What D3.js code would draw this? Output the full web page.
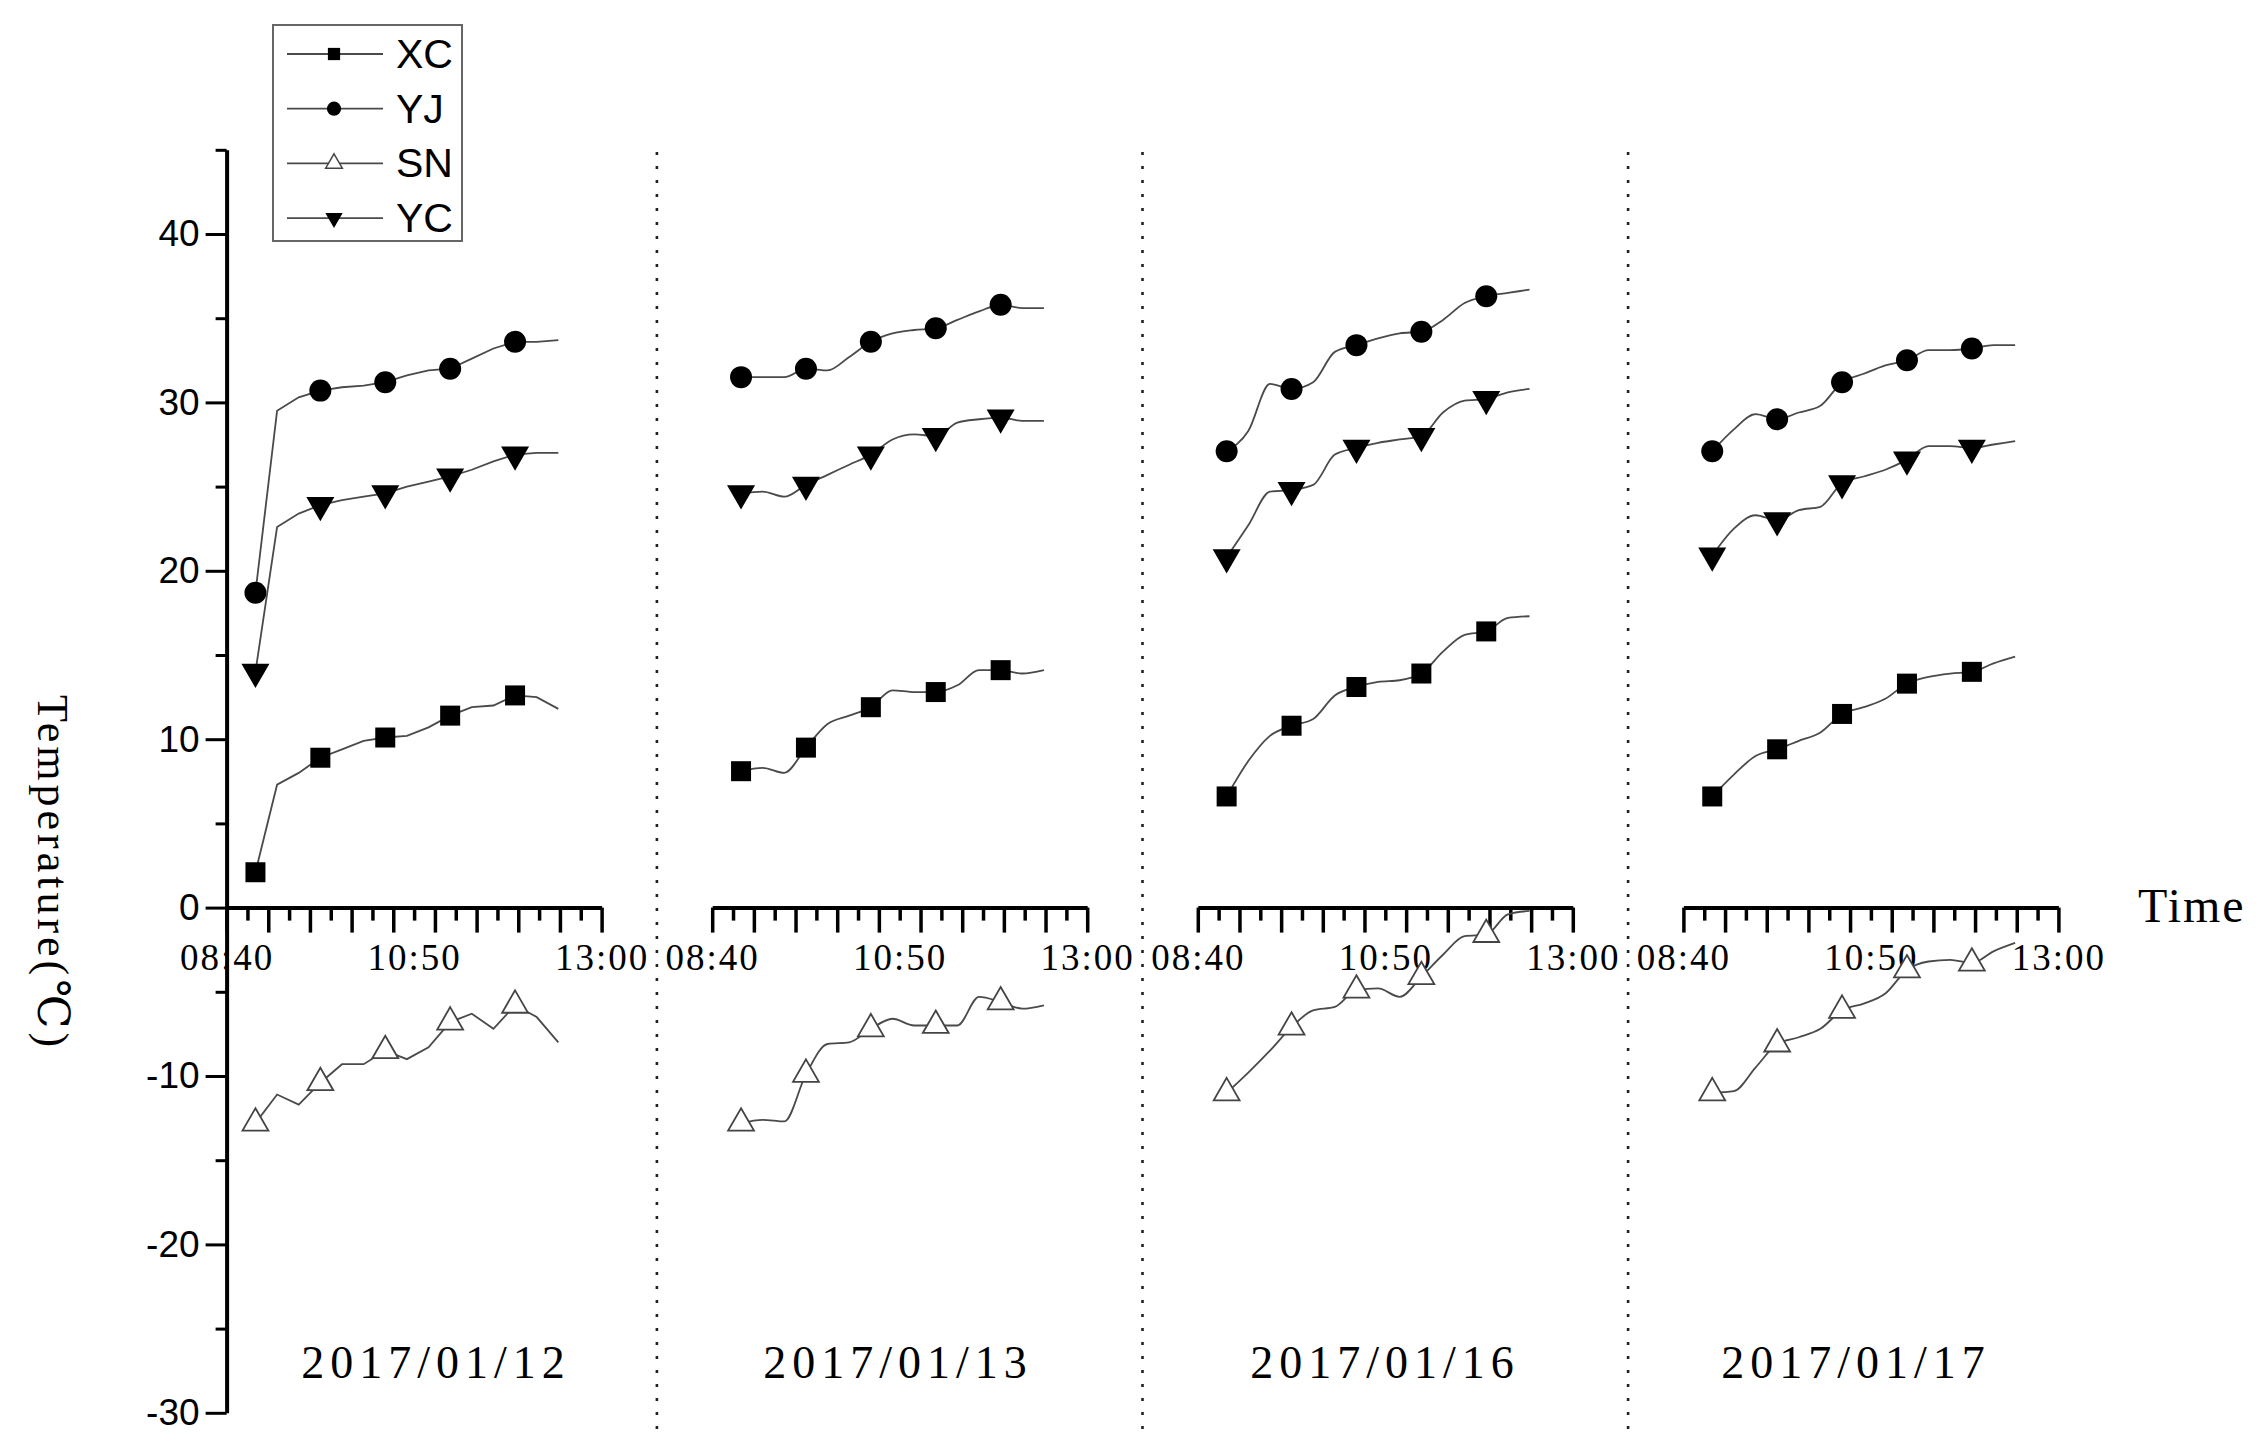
<!DOCTYPE html>
<meta charset="utf-8">
<style>
    body { margin: 0; background: #fff; }
    .tick text { fill: #000; }
</style>
<svg width="2266" height="1450"></svg>
<script src="https://d3js.org/d3.v7.min.js"></script>
<script>

    // ---- data ----
    var dates = ["2017/01/12", "2017/01/13", "2017/01/16", "2017/01/17"];
    var times = ["09:00", "09:15", "09:30", "09:45", "10:00", "10:15", "10:30", "10:45",
                 "11:00", "11:15", "11:30", "11:45", "12:00", "12:15", "12:30"];
    var xTickLabels = ["08:40", "10:50", "13:00"];
    var yTicks = [-30, -20, -10, 0, 10, 20, 30, 40];

    // one row per date
    var XC = [
        [2.1, 7.3, 8.0, 8.9, 9.4, 9.9, 10.1, 10.2, 10.7, 11.4, 11.9, 12.0, 12.6, 12.5, 11.8],
        [8.1, 8.3, 8.0, 9.5, 10.9, 11.4, 11.9, 12.9, 12.8, 12.8, 13.2, 14.1, 14.1, 13.9, 14.1],
        [6.6, 8.7, 10.2, 10.8, 11.2, 12.6, 13.1, 13.4, 13.5, 13.9, 15.2, 16.2, 16.4, 17.2, 17.3],
        [6.6, 7.9, 9.0, 9.4, 9.9, 10.4, 11.5, 11.9, 12.4, 13.3, 13.7, 13.9, 14.0, 14.5, 14.9]
    ];
    var YJ = [
        [18.7, 29.5, 30.3, 30.7, 30.9, 31.0, 31.2, 31.6, 31.9, 32.0, 32.6, 33.2, 33.6, 33.6, 33.7],
        [31.5, 31.5, 31.5, 32.0, 31.9, 32.7, 33.6, 34.1, 34.3, 34.4, 34.9, 35.4, 35.8, 35.6, 35.6],
        [27.1, 28.3, 31.1, 30.8, 31.2, 33.0, 33.4, 33.8, 34.1, 34.2, 34.9, 35.9, 36.3, 36.5, 36.7],
        [27.1, 28.4, 29.3, 29.0, 29.4, 29.8, 31.2, 31.7, 32.2, 32.5, 33.1, 33.1, 33.2, 33.4, 33.4]
    ];
    var SN = [
        [-12.8, -11.1, -11.7, -10.4, -9.3, -9.3, -8.5, -9.0, -8.3, -6.8, -6.3, -7.2, -5.8, -6.5, -8.0],
        [-12.8, -12.6, -12.7, -9.9, -8.1, -8.0, -7.2, -6.6, -7.0, -7.0, -7.0, -5.3, -5.6, -6.0, -5.8],
        [-11.0, -9.8, -8.5, -7.1, -6.1, -5.9, -4.9, -4.8, -5.3, -4.1, -2.8, -1.7, -1.6, -0.4, -0.2],
        [-11.0, -10.9, -9.5, -8.1, -7.7, -7.2, -6.1, -5.7, -5.1, -3.7, -3.2, -3.1, -3.3, -2.6, -2.1]
    ];
    var YC = [
        [14.0, 22.6, 23.4, 23.9, 24.2, 24.4, 24.6, 25.0, 25.3, 25.6, 26.0, 26.5, 26.9, 27.0, 27.0],
        [24.6, 24.7, 24.4, 25.1, 25.7, 26.3, 26.9, 27.8, 28.1, 28.0, 28.8, 29.0, 29.1, 28.9, 28.9],
        [20.8, 22.7, 24.7, 24.8, 25.1, 26.9, 27.3, 27.6, 27.8, 28.0, 29.4, 30.1, 30.2, 30.6, 30.8],
        [20.9, 22.5, 23.3, 23.0, 23.6, 23.8, 25.2, 25.6, 26.0, 26.6, 27.4, 27.4, 27.3, 27.5, 27.7]
    ];

    var seriesNames = ["XC", "YJ", "SN", "YC"];
    var seriesData = {XC: XC, YJ: YJ, SN: SN, YC: YC};

    // ---- layout ----
    var svg = d3.select("svg"),
        panelX0 = 226.6, panelStep = 485.6, panelW = 375,
        markerEvery = 3,
        dateLabelX = [436, 898, 1385, 1856];

    var serif = "'Liberation Serif', 'DejaVu Serif', serif",
        sans = "'Liberation Sans', Arial, sans-serif";

    svg.append("rect").attr("width", 2266).attr("height", 1450).attr("fill", "#fff");

    var y = d3.scaleLinear().domain([-30, 45]).range([1412.8, 149.8]);

    function toMin(s) { var p = s.split(":"); return +p[0] * 60 + +p[1]; }
    var tMin = toMin(xTickLabels[0]), tMax = toMin(xTickLabels[xTickLabels.length - 1]);

    var symbols = {
        XC: {type: d3.symbolSquare, size: 400, rot: 0, fill: "#000", stroke: "none"},
        YJ: {type: d3.symbolCircle, size: 380, rot: 0, fill: "#000", stroke: "none"},
        SN: {type: d3.symbolTriangle, size: 290, rot: 0, fill: "#fff", stroke: "#444"},
        YC: {type: d3.symbolTriangle, size: 340, rot: 180, fill: "#000", stroke: "none"}
    };

    // dotted separators between panels
    for (var i = 1; i < dates.length; i++) {
        var sx = panelX0 + i * panelStep - (panelStep - panelW) / 2;
        svg.append("line")
            .attr("x1", sx).attr("x2", sx)
            .attr("y1", 152).attr("y2", 1432)
            .attr("stroke", "#222").attr("stroke-width", 2.6)
            .attr("stroke-dasharray", "3,11");
    }

    // y axis
    var yAxis = svg.append("g")
        .attr("transform", "translate(" + panelX0 + ",0)")
        .call(d3.axisLeft(y).tickValues(yTicks).tickSize(21).tickSizeOuter(0).tickPadding(6)
            .tickFormat(function(d) { return String(d); }));
    yAxis.select(".domain").attr("stroke-width", 4);
    yAxis.selectAll(".tick line").attr("stroke-width", 3);
    yAxis.selectAll(".tick text")
        .style("font-family", sans).style("font-size", "37px");
    svg.append("g")
        .attr("transform", "translate(" + panelX0 + ",0)")
        .call(d3.axisLeft(y).tickValues(d3.range(-25, 46, 10)).tickSize(11).tickFormat(""))
        .call(function(g) { g.select(".domain").remove(); })
        .selectAll("line").attr("stroke-width", 3);

    svg.append("text")
        .attr("transform", "translate(48," + 873 + ") rotate(90)")
        .attr("text-anchor", "middle")
        .attr("dominant-baseline", "middle")
        .style("font-family", serif).style("font-size", "44px")
        .style("letter-spacing", "4px")
        .text("Temperature(℃)");

    var line0 = d3.line().curve(d3.curveLinear),
        lineS = d3.line().curve(d3.curveMonotoneX);

    dates.forEach(function(date, p) {
        var x0 = panelX0 + p * panelStep;
        var x = d3.scaleLinear().domain([tMin, tMax]).range([x0, x0 + panelW]);

        var major = d3.range(10).map(function(k) { return tMin + k * (tMax - tMin) / 9; });
        var minor = d3.range(9).map(function(k) { return tMin + (k + 0.5) * (tMax - tMin) / 9; });

        var gx = svg.append("g")
            .attr("transform", "translate(0," + y(0) + ")")
            .call(d3.axisBottom(x).tickValues(major).tickSize(25).tickSizeOuter(0).tickFormat(""));
        gx.select(".domain").attr("stroke-width", 4);
        gx.selectAll(".tick line").attr("stroke-width", 3.5);
        svg.append("g")
            .attr("transform", "translate(0," + y(0) + ")")
            .call(d3.axisBottom(x).tickValues(minor).tickSize(13).tickFormat(""))
            .call(function(g) { g.select(".domain").remove(); })
            .selectAll("line").attr("stroke-width", 3.5);

        var gl = svg.append("g")
            .attr("transform", "translate(0," + y(0) + ")")
            .call(d3.axisBottom(x).tickValues(xTickLabels.map(toMin)).tickSize(0).tickPadding(36)
                .tickFormat(function(d, k) { return xTickLabels[k]; }));
        gl.select(".domain").remove();
        gl.selectAll("text")
            .style("font-family", serif).style("font-size", "37px")
            .style("letter-spacing", "2px");

        var curve = p === 0 ? line0 : lineS;
        curve.x(function(d) { return x(toMin(d.t)); }).y(function(d) { return y(d.v); });

        seriesNames.forEach(function(name) {
            var pts = seriesData[name][p].map(function(v, k) { return {t: times[k], v: v}; });
            svg.append("path")
                .datum(pts)
                .attr("fill", "none")
                .attr("stroke", "#4a4a4a")
                .attr("stroke-width", 1.8)
                .attr("d", curve);

            var s = symbols[name];
            svg.append("g").selectAll("path")
                .data(pts.filter(function(d, k) { return k % markerEvery === 0 && k < pts.length - 2; }))
                .join("path")
                .attr("transform", function(d) {
                    return "translate(" + x(toMin(d.t)) + "," + y(d.v) + ") rotate(" + s.rot + ")";
                })
                .attr("d", d3.symbol().type(s.type).size(s.size))
                .attr("fill", s.fill)
                .attr("stroke", s.stroke)
                .attr("stroke-width", 1.8);
        });

        svg.append("text")
            .attr("x", dateLabelX[p]).attr("y", 1378)
            .attr("text-anchor", "middle")
            .style("font-family", serif).style("font-size", "46px")
            .style("letter-spacing", "6px")
            .text(date);
    });

    svg.append("text")
        .attr("x", 2138).attr("y", 922)
        .style("font-family", serif).style("font-size", "48px")
        .style("letter-spacing", "2px")
        .text("Time");

    // legend
    var legend = svg.append("g");
    legend.append("rect")
        .attr("x", 273).attr("y", 25).attr("width", 189).attr("height", 216)
        .attr("fill", "#fff").attr("stroke", "#666").attr("stroke-width", 2);
    var legendSymbols = {XC: 150, YJ: 160, SN: 120, YC: 130};
    seriesNames.forEach(function(name, k) {
        var ly = 54 + k * 54.7, s = symbols[name];
        legend.append("line")
            .attr("x1", 287).attr("x2", 383).attr("y1", ly).attr("y2", ly)
            .attr("stroke", "#4a4a4a").attr("stroke-width", 1.8);
        legend.append("path")
            .attr("transform", "translate(334," + ly + ") rotate(" + s.rot + ")")
            .attr("d", d3.symbol().type(s.type).size(legendSymbols[name]))
            .attr("fill", s.fill).attr("stroke", s.stroke).attr("stroke-width", 1.5);
        legend.append("text")
            .attr("x", 396).attr("y", ly)
            .attr("dominant-baseline", "central")
            .style("font-family", sans).style("font-size", "41px")
            .text(name);
    });

</script>
